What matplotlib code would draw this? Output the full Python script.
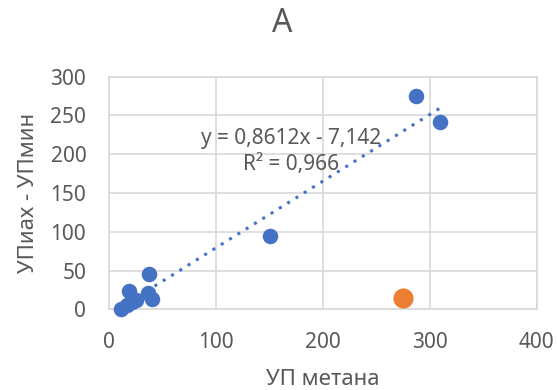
import matplotlib
matplotlib.use("Agg")
import matplotlib.pyplot as plt

plt.rcParams['font.family'] = ['Noto Sans', 'DejaVu Sans']

# blue series
blue_x = [12, 17, 19, 22, 26, 37, 38, 41, 151, 287, 310]
blue_y = [0, 5, 24, 10, 12, 21, 45, 13, 94, 275, 241]
# orange point
orange_x = [275]
orange_y = [15]

# linear trendline shown in the chart
trend_slope = 0.8612
trend_intercept = -7.142
trend_label = "y = 0,8612x - 7,142\nR² = 0,966"

x_ticks = [0, 100, 200, 300, 400]
y_ticks = [0, 50, 100, 150, 200, 250, 300]

text_color = "#595959"
grid_color = "#d9d9d9"

fig = plt.figure(figsize=(5.57, 3.90), dpi=100)
ax = fig.add_axes([0.1948, 0.2069, 0.7688, 0.5964])

ax.set_xlim(0, 400)
ax.set_ylim(0, 300)
ax.set_xticks(x_ticks)
ax.set_yticks(y_ticks)
ax.grid(True, color=grid_color, linewidth=1.2)
ax.set_axisbelow(True)
for s in ax.spines.values():
    s.set_color(grid_color)
    s.set_linewidth(1.2)
ax.tick_params(length=0, labelsize=15, labelcolor=text_color)
ax.tick_params(axis="y", pad=16)
ax.tick_params(axis="x", pad=16)

tx = [min(blue_x), max(blue_x)]
ty = [trend_slope * v + trend_intercept for v in tx]
ax.plot(tx, ty, color="#4472C4", linestyle=(0, (1, 2.2)), linewidth=2.2,
        zorder=2)

ax.scatter(blue_x, blue_y, s=125, color="#4472C4", zorder=3, clip_on=False,
           linewidths=0)
ax.scatter(orange_x, orange_y, s=210, color="#ED7D31", zorder=3,
           clip_on=False, linewidths=0)

ax.text(170.6, 204, trend_label, ha="center", va="center", fontsize=15,
        color=text_color, linespacing=1.3, zorder=4)

ax.set_xlabel("УП метана", fontsize=16, color=text_color, labelpad=12)
ax.set_ylabel("УПиах - УПмин", fontsize=16, color=text_color, labelpad=8)
fig.text(0.506, 0.94, "A", ha="center", va="center", fontsize=23,
         color=text_color)

fig.savefig("out.png", dpi=100)
